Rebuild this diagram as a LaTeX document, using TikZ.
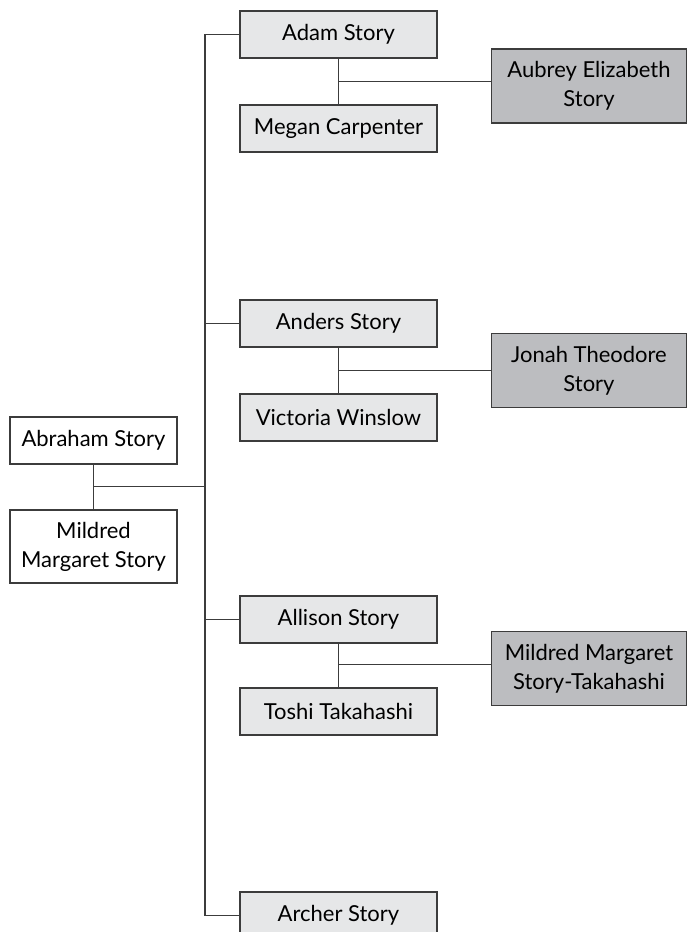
\documentclass[tikz,border=0pt]{standalone}
\usepackage{fontspec}
\setmainfont{Lato}
\definecolor{lightbox}{HTML}{E6E7E8}
\definecolor{darkbox}{HTML}{BCBDC0}
\definecolor{edge}{HTML}{3C3C3C}
\begin{document}
\begin{tikzpicture}[x=0.5pt, y=-0.5pt, line width=0.6pt, draw=edge,
  person/.style={draw=edge, fill=lightbox, minimum width=98.5pt, minimum height=23.5pt, inner sep=2pt, align=center, font=\fontsize{11}{14.5}\selectfont},
  parent/.style={person, fill=white, minimum width=83.5pt},
  child/.style={person, fill=darkbox, minimum width=97.5pt, minimum height=37pt}]
\useasboundingbox (0,0) rectangle (687,932);
\node[parent] (abraham) at (93.5,440.5) {Abraham Story};
\node[parent, minimum height=36.5pt] (mildred) at (93.5,546.5) {Mildred\\Margaret Story};
\node[person] (adam) at (338.5,34.5) {Adam Story};
\node[person] (megan) at (338.5,128.5) {Megan Carpenter};
\node[child] (aubrey) at (589,86) {Aubrey Elizabeth\\Story};
\node[person] (anders) at (338.5,323.5) {Anders Story};
\node[person] (victoria) at (338.5,417.5) {Victoria Winslow};
\node[child] (jonah) at (589,370.5) {Jonah Theodore\\Story};
\node[person] (allison) at (338.5,619.5) {Allison Story};
\node[person] (toshi) at (338.5,711.5) {Toshi Takahashi};
\node[child] (mmst) at (589,668.5) {Mildred Margaret\\Story-Takahashi};
\node[person] (archer) at (338.5,915.5) {Archer Story};
\draw (adam.west) -- ++(-34.5,0) coordinate (trunk) |- (archer.west);
\draw (anders.west) -- (anders.west -| trunk);
\draw (allison.west) -- (allison.west -| trunk);
\draw (abraham) -- (mildred);
\draw (93.5,486.5) coordinate (p0) -- (p0 -| trunk);
\draw (adam) -- (megan);
\draw (338.5,81.5) coordinate (c1) -- (c1 -| aubrey.west);
\draw (anders) -- (victoria);
\draw (338.5,370.5) coordinate (c2) -- (c2 -| jonah.west);
\draw (allison) -- (toshi);
\draw (338.5,664.5) coordinate (c3) -- (c3 -| mmst.west);
\end{tikzpicture}
\end{document}
